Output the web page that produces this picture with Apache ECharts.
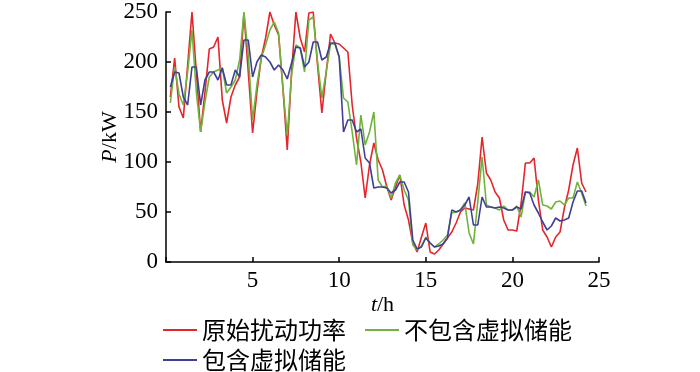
<!DOCTYPE html>
<html>
<head>
<meta charset="utf-8">
<script src="https://cdn.jsdelivr.net/npm/echarts@6/dist/echarts.min.js"></script>
<style>
html,body{margin:0;padding:0;background:#fff;}
#c{width:700px;height:372px;}
</style>
</head>
<body>
<div id="c"></div>
<script>
const hours = [0.25,0.5,0.75,1,1.25,1.5,1.75,2,2.25,2.5,2.75,3,3.25,3.5,3.75,4,4.25,4.5,4.75,5,
5.25,5.5,5.75,6,6.25,6.5,6.75,7,7.25,7.5,7.75,8,8.25,8.5,8.75,9,9.25,9.5,9.75,10,
10.25,10.5,10.75,11,11.25,11.5,11.75,12,12.25,12.5,12.75,13,13.25,13.5,13.75,14,14.25,14.5,14.75,15,
15.25,15.5,15.75,16,16.25,16.5,16.75,17,17.25,17.5,17.75,18,18.25,18.5,18.75,19,19.25,19.5,19.75,20,
20.25,20.5,20.75,21,21.25,21.5,21.75,22,22.25,22.5,22.75,23,23.25,23.5,23.75,24,24.25];

const originalPower = [165,204,155,144,197,250,190,130,170,213,215,225,162,139,165,177,185,249,190,129,
170,204,224,250,237,227,174,112,190,250,224,210,249,250,197,149,190,228,219,218,
214,210,157,124,100,64,97,119,102,92,75,62,75,87,57,42,19,10,25,39,
10,8,12,18,24,30,39,50,54,53,52,78,125,89,82,70,64,42,32,32,
31,58,99,99,104,62,32,25,15,25,30,54,72,97,114,79,70];

const withoutVirtualStorage = [159,195,168,157,190,232,170,130,160,185,190,192,194,169,175,182,202,250,207,142,
177,204,217,232,240,229,174,127,187,217,214,190,242,245,200,164,190,218,218,205,
164,160,130,97,147,117,130,150,82,75,76,64,79,87,72,62,17,12,16,25,
19,15,18,22,27,49,50,52,59,29,18,60,105,57,55,54,52,56,52,52,
56,45,70,70,65,82,57,56,53,60,61,57,64,64,80,69,56];

const withVirtualStorage = [175,190,189,165,157,195,195,157,182,190,190,182,194,177,177,192,185,222,222,185,
200,207,205,200,192,197,192,183,199,215,214,195,200,220,220,202,205,219,219,205,
130,142,142,130,133,104,99,74,75,75,74,69,72,80,80,70,22,13,15,24,
19,15,16,18,24,52,50,52,57,65,37,37,65,55,55,54,55,54,52,52,
55,53,70,69,57,49,40,32,36,44,41,42,44,60,71,71,59];

const seriesNames = ['原始扰动功率','不包含虚拟储能','包含虚拟储能'];
const xTicks = [5,10,15,20,25];
const yTicks = [0,50,100,150,200,250];

const colors = ['#e6252b','#6fb33d','#3f3f98'];
const pair = (vals) => hours.map((t,i)=>[t, vals[i]]);
const serif = '"Liberation Serif","Times New Roman",serif';
const cjk = '"Noto Sans CJK SC",sans-serif';

const chart = echarts.init(document.getElementById('c'), null, {renderer:'canvas'});
chart.setOption({
  animation:false,
  backgroundColor:'#fff',
  grid:{left:166, top:12, width:433, height:250, containLabel:false},
  xAxis:{
    type:'value', min:0, max:25, interval:5,
    name:'{i|t}/h', nameLocation:'middle', nameGap:32, nameMoveOverlap:false,
    nameTextStyle:{fontFamily:serif, fontSize:22, color:'#000',
      rich:{i:{fontStyle:'italic', fontFamily:serif, fontSize:22, color:'#000'}}},
    axisLine:{onZero:false, lineStyle:{color:'#000', width:1.5}},
    axisTick:{inside:true, length:5, lineStyle:{color:'#000', width:1.5}},
    axisLabel:{fontFamily:serif, fontSize:23, color:'#000', margin:7,
      formatter:(v)=> xTicks.includes(v) ? String(v) : ''},
    splitLine:{show:false}
  },
  yAxis:{
    type:'value', min:0, max:250, interval:50,
    name:'{i|P}/kW', nameLocation:'middle', nameGap:45, nameRotate:90, nameMoveOverlap:false,
    nameTextStyle:{fontFamily:serif, fontSize:22, color:'#000',
      rich:{i:{fontStyle:'italic', fontFamily:serif, fontSize:22, color:'#000'}}},
    axisLine:{show:true, lineStyle:{color:'#000', width:1.5}},
    axisTick:{show:true, inside:true, length:5, lineStyle:{color:'#000', width:1.5}},
    axisLabel:{fontFamily:serif, fontSize:23, color:'#000', margin:8,
      formatter:(v)=> yTicks.includes(v) ? String(v) : ''},
    splitLine:{show:false}
  },
  legend:[
    {data:[seriesNames[0], seriesNames[1]], left:158, top:313, orient:'horizontal', padding:[5,5,5,5],
     icon:'rect', itemWidth:34, itemHeight:2, itemGap:19, itemTextGap:6,
     textStyle:{fontFamily:cjk, fontSize:24, color:'#000'}},
    {data:[seriesNames[2]], left:158, top:343, orient:'horizontal', padding:[5,5,5,5],
     icon:'rect', itemWidth:34, itemHeight:2, itemTextGap:6,
     textStyle:{fontFamily:cjk, fontSize:24, color:'#000'}}
  ],
  series:[
    {name:seriesNames[0], type:'line', data:pair(originalPower), showSymbol:false, symbol:'none',
     lineStyle:{color:colors[0], width:1.6}, itemStyle:{color:colors[0]}},
    {name:seriesNames[1], type:'line', data:pair(withoutVirtualStorage), showSymbol:false, symbol:'none',
     lineStyle:{color:colors[1], width:1.6}, itemStyle:{color:colors[1]}},
    {name:seriesNames[2], type:'line', data:pair(withVirtualStorage), showSymbol:false, symbol:'none',
     lineStyle:{color:colors[2], width:1.6}, itemStyle:{color:colors[2]}}
  ]
});
</script>
</body>
</html>
